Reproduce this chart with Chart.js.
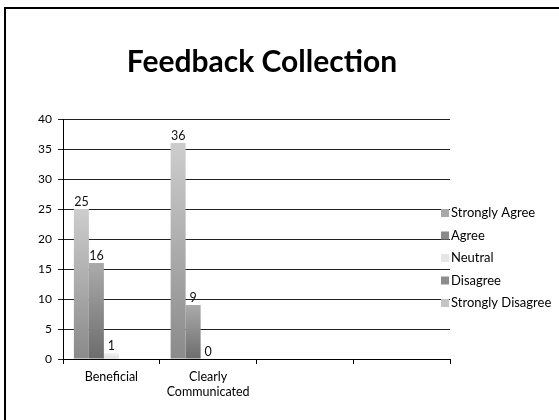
<!DOCTYPE html>
<html>
<head>
<meta charset="utf-8">
<script src="https://cdn.jsdelivr.net/npm/chart.js@4.4.0/dist/chart.umd.min.js"></script>
<style>
  html, body { margin: 0; padding: 0; background: #fff; }
  #wrap { position: relative; width: 559px; height: 420px; }
  #frame { position: absolute; left: 4px; top: 7px; right: 0; bottom: 0;
           border-left: 2px solid #000; border-top: 2px solid #000; pointer-events: none; }
  canvas { position: absolute; left: 0; top: 0; }
</style>
</head>
<body>
<div id="wrap">
  <canvas id="feedbackChart" width="559" height="420"></canvas>
  <div id="frame"></div>
</div>
<script>
const categories = ['Beneficial', ['Clearly', 'Communicated'], '', ''];
const seriesNames = ['Strongly Agree', 'Agree', 'Neutral', 'Disagree', 'Strongly Disagree'];
const stronglyAgree = [25, 36, null, null];
const agree = [16, 9, null, null];
const neutral = [1, 0, null, null];
const disagree = [null, null, null, null];
const stronglyDisagree = [null, null, null, null];

// top / bottom colour of each bar gradient, and the legend swatch
const shades = [
    ['#cdcdcd', '#8a8a8a', '#a8a8a8'],
    ['#ababab', '#6c6c6c', '#8a8a8a'],
    ['#f4f4f4', '#dcdcdc', '#e6e6e6'],
    ['#aaaaaa', '#707070', '#8c8c8c'],
    ['#d8d8d8', '#b0b0b0', '#c4c4c4']
];

function barFill(i) {
    return function (ctx) {
        const chart = ctx.chart;
        if (!chart.chartArea) return shades[i][2];
        const y = chart.scales.y;
        const v = ctx.raw == null ? 0 : ctx.raw;
        const top = y.getPixelForValue(v);
        const bottom = y.getPixelForValue(0);
        if (bottom - top < 1) return shades[i][0];
        const g = chart.ctx.createLinearGradient(0, top, 0, bottom);
        g.addColorStop(0, shades[i][0]);
        g.addColorStop(1, shades[i][1]);
        return g;
    };
}

// value labels above the bars
const valueLabels = {
    id: 'valueLabels',
    afterDatasetsDraw(chart) {
        const c = chart.ctx;
        c.save();
        c.font = '12.5px Lato';
        c.fillStyle = '#111';
        c.textAlign = 'center';
        c.textBaseline = 'bottom';
        chart.data.datasets.forEach((ds, di) => {
            chart.getDatasetMeta(di).data.forEach((bar, i) => {
                if (ds.data[i] == null) return;
                c.fillText(ds.data[i], bar.x, bar.y - 1);
            });
        });
        c.restore();
    }
};

// legend on the right, drawn in the style of the slide
const sideLegend = {
    id: 'sideLegend',
    afterDraw(chart) {
        const c = chart.ctx;
        const x = chart.chartArea.right - 9;
        const y0 = 213;
        c.save();
        c.font = '13px Lato';
        c.textBaseline = 'middle';
        c.textAlign = 'left';
        chart.data.datasets.forEach((ds, i) => {
            const y = y0 + i * 22.5;
            c.fillStyle = shades[i][2];
            c.fillRect(x, y - 4, 8, 8);
            c.fillStyle = '#000';
            c.fillText(ds.label, x + 10, y);
        });
        c.restore();
    }
};

const seriesData = [stronglyAgree, agree, neutral, disagree, stronglyDisagree];

const feedbackCtx = document.getElementById('feedbackChart').getContext('2d');
const feedbackChart = new Chart(feedbackCtx, {
    type: 'bar',
    data: {
        labels: categories,
        datasets: seriesNames.map((name, i) => ({
            label: name,
            data: seriesData[i],
            backgroundColor: barFill(i),
            borderWidth: 0,
            categoryPercentage: 0.775,
            barPercentage: 1
        }))
    },
    options: {
        responsive: false,
        animation: false,
        layout: { padding: { left: 0, right: 35, top: 0, bottom: 0 } },
        plugins: {
            legend: { display: false },
            tooltip: { enabled: false },
            title: {
                display: true,
                text: 'Feedback Collection',
                color: '#000',
                font: { family: 'Lato', size: 30, weight: 'bold', lineHeight: 1.2 },
                padding: { top: 44, bottom: 39 }
            }
        },
        scales: {
            y: {
                min: 0,
                max: 40,
                ticks: { stepSize: 5, color: '#000', font: { family: 'Lato', size: 12 }, padding: 6 },
                grid: { color: '#222', lineWidth: 1, tickLength: 5 },
                border: { color: '#000', width: 1 },
                afterFit(scale) { scale.width = 63; }
            },
            legendSpace: {
                type: 'linear',
                position: 'right',
                display: true,
                ticks: { display: false },
                grid: { drawOnChartArea: false, drawTicks: false },
                border: { display: false },
                afterFit(scale) { scale.width = 74; }
            },
            x: {
                ticks: { color: '#000', font: { family: 'Lato', size: 12.5, lineHeight: 1.2 }, padding: 5, maxRotation: 0, autoSkip: false },
                grid: { drawOnChartArea: false, drawTicks: true, tickLength: 5, color: '#000', offset: true },
                border: { color: '#000', width: 1 },
                afterFit(scale) { scale.height = 61; }
            }
        }
    },
    plugins: [valueLabels, sideLegend]
});
</script>
</body>
</html>
